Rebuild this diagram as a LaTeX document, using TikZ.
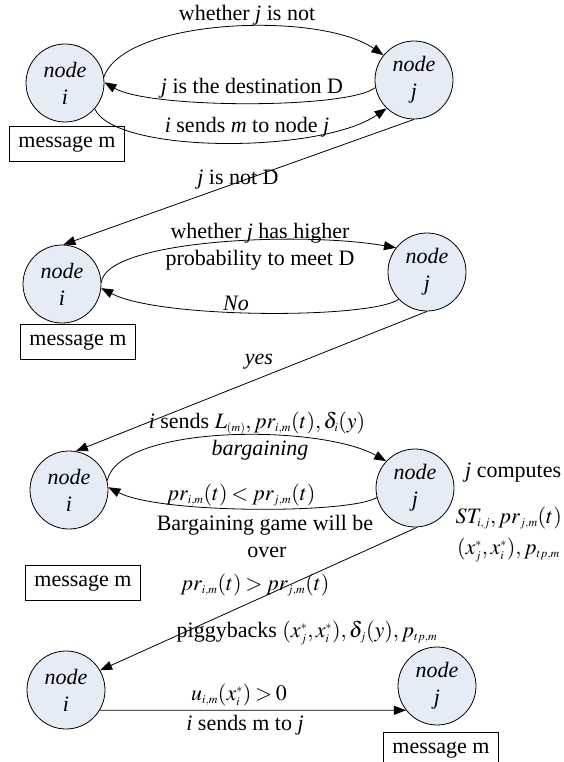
\documentclass[tikz,border=0pt]{standalone}
\usepackage{mathptmx}
\usepackage[no-math]{fontspec}
\setmainfont{Liberation Serif}
\DeclareMathSizes{22}{22}{12}{9}
\thickmuskip=3mu\relax
\medmuskip=2mu\relax
\usetikzlibrary{arrows.meta}
\definecolor{nodefill}{HTML}{E6ECF6}
\begin{document}
\begin{tikzpicture}[x=1pt,y=-1pt,
  font=\fontsize{22}{26}\selectfont,
  nd/.style={circle, draw, fill=nodefill, minimum size=78pt, inner sep=0pt, align=center, line width=0.8pt, font=\fontsize{22}{27}\selectfont\itshape},
  msg/.style={draw, rectangle, minimum width=115pt, minimum height=35pt, inner sep=0pt, line width=0.8pt},
  arr/.style={-{Triangle[length=12pt,width=9pt]}, line width=0.8pt},
  lbl/.style={inner sep=0pt}]
\clip (0,0) rectangle (563,762);
% nodes
\node[nd] (i1) at (65,83) {node\\i};
\node[nd] (j1) at (414,80) {node\\j};
\node[msg] (m1) at (67,144) {message m};
\node[nd] (i2) at (62,284) {node\\i};
\node[nd] (j2) at (427,272) {node\\j};
\node[msg] (m2) at (78,342) {message m};
\node[nd] (i3) at (69,490) {node\\i};
\node[nd] (j3) at (415,488) {node\\j};
\node[msg] (m3) at (83,583) {message m};
\node[nd] (i4) at (66,690) {node\\i};
\node[nd] (j4) at (437,686) {node\\j};
\node[msg] (m4) at (441,750) {message m};
% row 1
\draw[arr] (i1.9) .. controls (125,18) and (320,11) .. (j1.141);
\draw[arr] (j1.191) .. controls (350,109) and (150,109) .. (i1.1);
\draw[arr] (i1.-41) .. controls (115,154) and (320,154) .. (j1.226);
\node[lbl] (t1) at (247,15) {whether \textit{j} is not};
\node[lbl] (t2) at (252,88) {\textit{j} is the destination D};
\node[lbl] (t3) at (247,127) {\textit{i} sends \textit{m} to node \textit{j}};
\draw[arr] (j1.-90) -- (i2.88);
\node[lbl] (t4) at (238,180) {\textit{j} is not D};
% row 2
\draw[arr] (i2.2) .. controls (105,240) and (300,231) .. (j2.142);
\draw[arr] (j2.224) .. controls (370,319) and (160,319) .. (i2.-6);
\node[lbl] (t5) at (260,233) {whether \textit{j} has higher};
\node[lbl] (t6) at (260,260) {probability to meet D};
\node[lbl] (t7) at (236,303) {\textit{No}};
\draw[arr] (j2.-90) -- (i3.80);
\node[lbl] (t8) at (259,362) {\textit{yes}};
% row 3
\draw[arr] (i3.14) .. controls (120,424) and (320,424) .. (j3.137);
\draw[arr] (j3.194) .. controls (350,514) and (160,514) .. (i3.4);
\node[lbl] (t9) at (257,423) {\textit{i} sends $L_{(m)}, pr_{i,m}(t), \delta_i(y)$};
\node[lbl] (t10) at (260,450) {\textit{bargaining}};
\node[lbl] (t11) at (241,495) {$pr_{i,m}(t) < pr_{j,m}(t)$};
\node[lbl] (t12) at (265,525) {Bargaining game will be};
\node[lbl] (t13) at (267,552) {over};
\node[lbl, anchor=west] (t14) at (465,473) {\textit{j} computes};
\node[lbl, anchor=east] (t15) at (562,518) {$ST_{i,j}, pr_{j,m}(t)$};
\node[lbl, anchor=east] (t16) at (560,550) {$(x_j^*,x_i^*), p_{tp,m}$};
\draw[arr] (j3.-87) -- (i4.30);
\node[lbl] (t17) at (255,585) {$pr_{i,m}(t) > pr_{j,m}(t)$};
\node[lbl] (t18) at (307,633) {piggybacks $(x_j^*,x_i^*), \delta_j(y), p_{tp,m}$};
% row 4
\draw[arr] (i4.-31) -- (j4.218);
\node[lbl] (t19) at (239,695) {$u_{i,m}(x_i^*) > 0$};
\node[lbl] (t20) at (245,725) {\textit{i} sends m to \textit{j}};
\end{tikzpicture}
\end{document}
